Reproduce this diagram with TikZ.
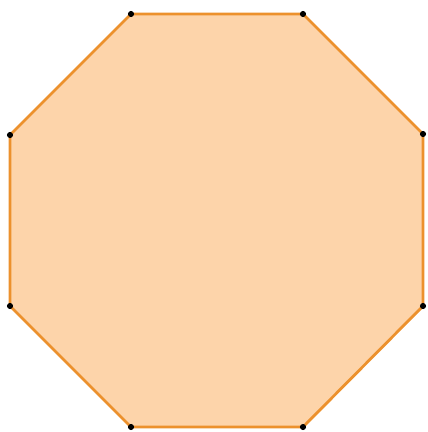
\documentclass[tikz,border=0pt]{standalone}
\usetikzlibrary{positioning}
\definecolor{octfill}{RGB}{253,212,170}
\definecolor{octline}{RGB}{236,145,45}

\begin{document}
\begin{tikzpicture}[
  x=0.75pt, y=-0.75pt,
  vert/.style={circle, fill=black, inner sep=0pt, minimum size=4.6pt},
  edge/.style={draw=octline, fill=octfill, line width=2.1pt, line join=round},
]

% ─── Frame ───
\useasboundingbox (0,0) rectangle (428,432);

% ─── Corner positions ───
\coordinate (a) at (131,14);
\coordinate (b) at (303,14);
\coordinate (c) at (423,134);
\coordinate (d) at (423,306);
\coordinate (e) at (303,427);
\coordinate (f) at (131,427);
\coordinate (g) at (10,306);
\coordinate (h) at (10,135);

% ─── Octagon ───
\draw[edge] (a) -- (b) -- (c) -- (d) -- (e) -- (f) -- (g) -- (h) -- cycle;

% ─── Vertex dots ───
\foreach \v in {a,b,c,d,e,f,g,h}
  \node[vert] (dot-\v) at (\v) {};

\end{tikzpicture}
\end{document}
